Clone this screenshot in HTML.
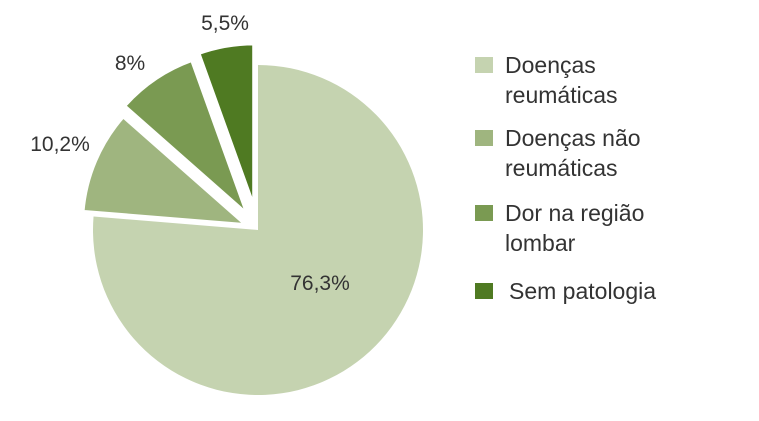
<!DOCTYPE html>
<html><head><meta charset="utf-8"><style>
body{margin:0;background:#fff}
svg text{font-family:"Liberation Sans",sans-serif;fill:#333}
</style></head><body>
<svg width="759" height="416">
<g id="pie"></g>
<g id="legend"></g>
</svg>
<script>
const categories=["Doenças reumáticas","Doenças não reumáticas","Dor na região lombar","Sem patologia"];
const values=[76.3,10.2,8,5.5];
const labels=["76,3%","10,2%","8%","5,5%"];
const colors=["#c5d3b0","#9fb57f","#7a9a52","#4f7a22"];
const legendLines=[["Doenças","reumáticas"],["Doenças não","reumáticas"],["Dor na região","lombar"],["Sem patologia"]];
const NS="http://www.w3.org/2000/svg";
const cx=258,cy=230,R=165;
const explode=[0,12,18,22];
const total=values.reduce((a,b)=>a+b,0);
const pie=document.getElementById('pie');
const labelPos=[[320,290],[60,151],[130,70],[225,30]];
let a0=0;
values.forEach((v,i)=>{
  const a1=a0+v/total*2*Math.PI;
  const mid=(a0+a1)/2;
  const x=cx+explode[i]*Math.sin(mid), y=cy-explode[i]*Math.cos(mid);
  const p=(a)=>[x+R*Math.sin(a),y-R*Math.cos(a)];
  const s=p(a0),e=p(a1);
  const path=document.createElementNS(NS,'path');
  path.setAttribute('d',`M${x},${y}L${s[0]},${s[1]}A${R},${R} 0 ${a1-a0>Math.PI?1:0} 1 ${e[0]},${e[1]}Z`);
  path.setAttribute('fill',colors[i]);
  path.setAttribute('stroke','#fff');
  path.setAttribute('stroke-width',i===0?0:4);
  path.setAttribute('stroke-linejoin','round');
  
  
  pie.appendChild(path);
  a0=a1;
});
values.forEach((v,i)=>{
  const t=document.createElementNS(NS,'text');
  t.setAttribute('x',labelPos[i][0]);t.setAttribute('y',labelPos[i][1]);
  t.setAttribute('text-anchor','middle');t.setAttribute('font-size','21');
  t.textContent=labels[i];
  
  
  pie.appendChild(t);
});
const lg=document.getElementById('legend');
const tops=[57,130,205,283];
categories.forEach((c,i)=>{
  const r=document.createElementNS(NS,'rect');
  r.setAttribute('x',475);r.setAttribute('y',tops[i]);r.setAttribute('width',18);r.setAttribute('height',16);
  r.setAttribute('fill',colors[i]);
  
  
  lg.appendChild(r);
  legendLines[i].forEach((ln,j)=>{
    const t=document.createElementNS(NS,'text');
    t.setAttribute('x',i===3?509:505);t.setAttribute('y',tops[i]+16+j*30);
    t.setAttribute('font-size','23');
    t.textContent=ln;
    
    
    lg.appendChild(t);
  });
});
</script>
</body></html>
